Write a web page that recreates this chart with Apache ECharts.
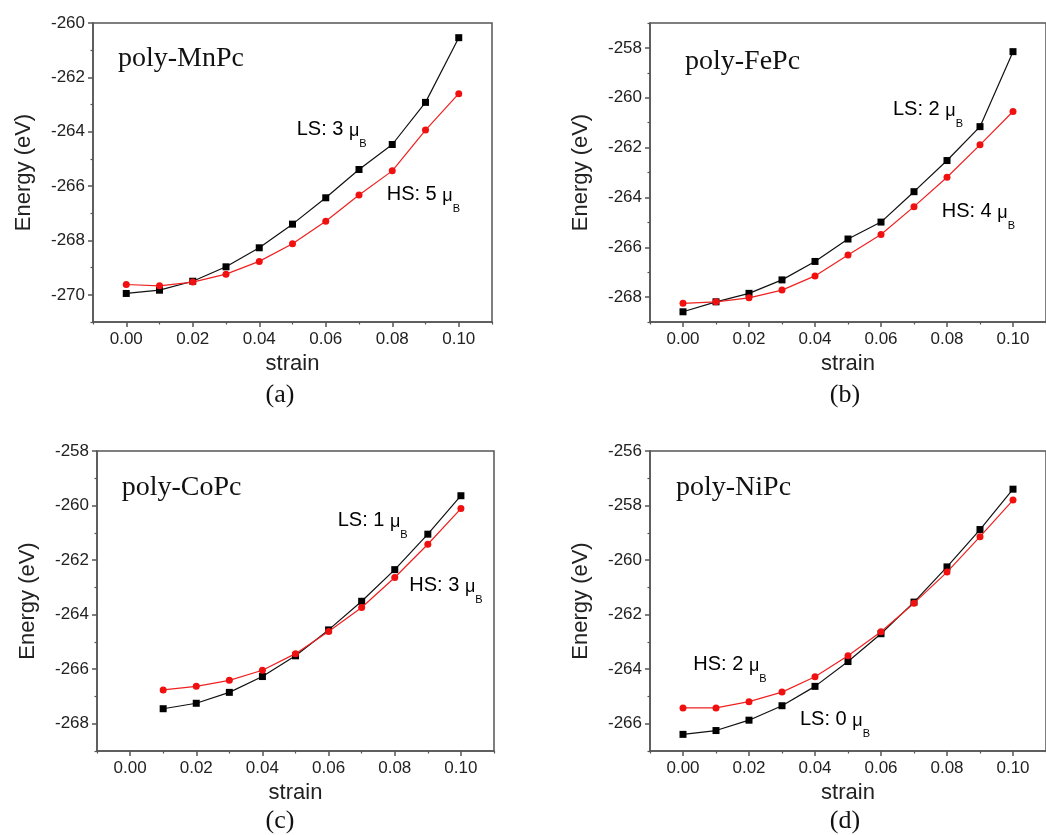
<!DOCTYPE html>
<html>
<head>
<meta charset="utf-8">
<script src="https://cdn.jsdelivr.net/npm/echarts@6/dist/echarts.min.js"></script>
<style>html,body{margin:0;padding:0;background:#fff}#c{width:1046px;height:835px}</style>
</head>
<body>
<div id="c"></div>
<script>
// ---- data ----
const strain = [0.00, 0.01, 0.02, 0.03, 0.04, 0.05, 0.06, 0.07, 0.08, 0.09, 0.10];
const mnLS = [-269.95, -269.83, -269.50, -268.97, -268.27, -267.40, -266.43, -265.39, -264.47, -262.92, -260.54];
const mnHS = [-269.62, -269.67, -269.53, -269.24, -268.77, -268.12, -267.29, -266.33, -265.44, -263.94, -262.60];
const feLS = [-268.59, -268.19, -267.85, -267.31, -266.57, -265.67, -264.99, -263.77, -262.52, -261.16, -258.15];
const feHS = [-268.25, -268.19, -268.03, -267.72, -267.15, -266.31, -265.49, -264.37, -263.19, -261.89, -260.55];
const coLS = [null, -267.45, -267.25, -266.85, -266.27, -265.51, -264.56, -263.51, -262.35, -261.05, -259.64];
const coHS = [null, -266.76, -266.63, -266.41, -266.04, -265.43, -264.62, -263.74, -262.64, -261.42, -260.11];
const niLS = [-266.39, -266.25, -265.87, -265.34, -264.63, -263.72, -262.70, -261.54, -260.25, -258.88, -257.40];
const niHS = [-265.42, -265.42, -265.19, -264.84, -264.28, -263.51, -262.63, -261.58, -260.44, -259.14, -257.80];

const xMajorTicks = [0.00, 0.02, 0.04, 0.06, 0.08, 0.10];
const xMinorTicks = [-0.01, 0.01, 0.03, 0.05, 0.07, 0.09, 0.11];
const yMajorA = [-270, -268, -266, -264, -262, -260];
const yMinorA = [-271, -269, -267, -265, -263, -261];
const yMajorB = [-268, -266, -264, -262, -260, -258];
const yMinorB = [-269, -267, -265, -263, -261, -259, -257];
const yMajorC = [-268, -266, -264, -262, -260, -258];
const yMinorC = [-269, -267, -265, -263, -261, -259];
const yMajorD = [-266, -264, -262, -260, -258, -256];
const yMinorD = [-267, -265, -263, -261, -259, -257];

const panelTitles = ['poly-MnPc', 'poly-FePc', 'poly-CoPc', 'poly-NiPc'];
const captions = ['(a)', '(b)', '(c)', '(d)'];
const lsLabels = ['LS: 3 ', 'LS: 2 ', 'LS: 1 ', 'LS: 0 '];
const hsLabels = ['HS: 5 ', 'HS: 4 ', 'HS: 3 ', 'HS: 2 '];

// ---- layout ----
const panels = [
  {grid:{left:93, top:23, width:399, height:299}, ymin:-271, ymax:-260, maj:yMajorA, min:yMinorA, ls:mnLS, hs:mnHS,
   title:[118,58.5], cap:[280,395], lsPos:[296.7,119], hsPos:[386.7,184]},
  {grid:{left:650, top:23, width:402, height:299}, ymin:-269, ymax:-257, maj:yMajorB, min:yMinorB, ls:feLS, hs:feHS,
   title:[685,61.5], cap:[845,395], lsPos:[893,99], hsPos:[941.7,201]},
  {grid:{left:97, top:451, width:397, height:300}, ymin:-269, ymax:-258, maj:yMajorC, min:yMinorC, ls:coLS, hs:coHS,
   title:[121.7,488], cap:[280,821], lsPos:[337.7,510], hsPos:[409.3,575]},
  {grid:{left:650, top:451, width:402, height:300}, ymin:-267, ymax:-256, maj:yMajorD, min:yMinorD, ls:niLS, hs:niHS,
   title:[676,488], cap:[845,821], lsPos:[800,709], hsPos:[693.3,654]}
];

const AX = '#555';
const SANS = '"Liberation Sans", Arial, sans-serif';
const SERIF = '"Liberation Serif", "Times New Roman", serif';

function pairs(vals) {
  const out = [];
  strain.forEach((x, i) => { if (vals[i] !== null) out.push([x, vals[i]]); });
  return out;
}

const grid = [], xAxis = [], yAxis = [], series = [], graphic = [];
panels.forEach((p, i) => {
  grid.push(Object.assign({show:true, borderColor:AX, borderWidth:1.5, backgroundColor:'transparent'}, p.grid));
  xAxis.push({
    type:'value', gridIndex:i, min:-0.01, max:0.11, position:'bottom',
    name:'strain', nameLocation:'middle', nameGap:31,
    nameTextStyle:{fontSize:22, fontFamily:SANS, color:'#222'},
    axisLine:{show:true, onZero:false, lineStyle:{color:AX, width:1.5}},
    axisTick:{show:true, inside:false, length:5, customValues:xMajorTicks, lineStyle:{color:AX, width:1.5}},
    axisLabel:{show:true, customValues:xMajorTicks, margin:9, fontSize:17, fontFamily:SANS, color:'#222',
      formatter: v => v.toFixed(2)},
    splitLine:{show:false}
  });
  xAxis.push({
    type:'value', gridIndex:i, min:-0.01, max:0.11, position:'bottom',
    axisLine:{show:false, onZero:false},
    axisTick:{show:true, inside:false, length:2.5, customValues:xMinorTicks, lineStyle:{color:AX, width:1.2}},
    axisLabel:{show:false}, splitLine:{show:false}
  });
  yAxis.push({
    type:'value', gridIndex:i, min:p.ymin, max:p.ymax, position:'left',
    name:'Energy (eV)', nameLocation:'middle', nameGap:58,
    nameTextStyle:{fontSize:22, fontFamily:SANS, color:'#222'},
    axisLine:{show:true, onZero:false, lineStyle:{color:AX, width:1.5}},
    axisTick:{show:true, inside:false, length:5, customValues:p.maj, lineStyle:{color:AX, width:1.5}},
    axisLabel:{show:true, customValues:p.maj, margin:8, fontSize:17, fontFamily:SANS, color:'#222',
      formatter: v => String(v)},
    splitLine:{show:false}
  });
  yAxis.push({
    type:'value', gridIndex:i, min:p.ymin, max:p.ymax, position:'left',
    axisLine:{show:false, onZero:false},
    axisTick:{show:true, inside:false, length:2.5, customValues:p.min, lineStyle:{color:AX, width:1.2}},
    axisLabel:{show:false}, splitLine:{show:false}
  });
  series.push({
    type:'line', xAxisIndex:2*i, yAxisIndex:2*i, data:pairs(p.ls),
    symbol:'rect', symbolSize:7, itemStyle:{color:'#000'}, lineStyle:{color:'#111', width:1.2},
    silent:true, animation:false, z:2
  });
  series.push({
    type:'line', xAxisIndex:2*i, yAxisIndex:2*i, data:pairs(p.hs),
    symbol:'circle', symbolSize:7, itemStyle:{color:'#f01010'}, lineStyle:{color:'#f02020', width:1.2},
    silent:true, animation:false, z:3
  });
  graphic.push({type:'text', x:p.title[0], y:p.title[1],
    style:{text:panelTitles[i], font:'28px ' + SERIF, fill:'#111', align:'left', verticalAlign:'middle'}});
  graphic.push({type:'text', x:p.cap[0], y:p.cap[1],
    style:{text:captions[i], font:'26px ' + SERIF, fill:'#111', align:'center', verticalAlign:'middle'}});
  const rich = {
    a:{fontSize:20, lineHeight:22, fontFamily:SANS, color:'#111', verticalAlign:'top'},
    m:{fontSize:18, lineHeight:18, fontFamily:SANS, color:'#111', verticalAlign:'top', padding:[3,0,0,0]},
    s:{fontSize:11, lineHeight:11, fontFamily:SANS, color:'#111', verticalAlign:'top', padding:[19,0,0,0]}
  };
  graphic.push({type:'text', x:p.lsPos[0], y:p.lsPos[1],
    style:{text:'{a|' + lsLabels[i] + '}{m|μ}{s|B}', rich:rich, align:'left', verticalAlign:'top'}});
  graphic.push({type:'text', x:p.hsPos[0], y:p.hsPos[1],
    style:{text:'{a|' + hsLabels[i] + '}{m|μ}{s|B}', rich:rich, align:'left', verticalAlign:'top'}});
});

const chart = echarts.init(document.getElementById('c'), null, {renderer:'canvas'});
chart.setOption({
  backgroundColor:'#fff', animation:false,
  grid, xAxis, yAxis, series, graphic
});
</script>
</body>
</html>
